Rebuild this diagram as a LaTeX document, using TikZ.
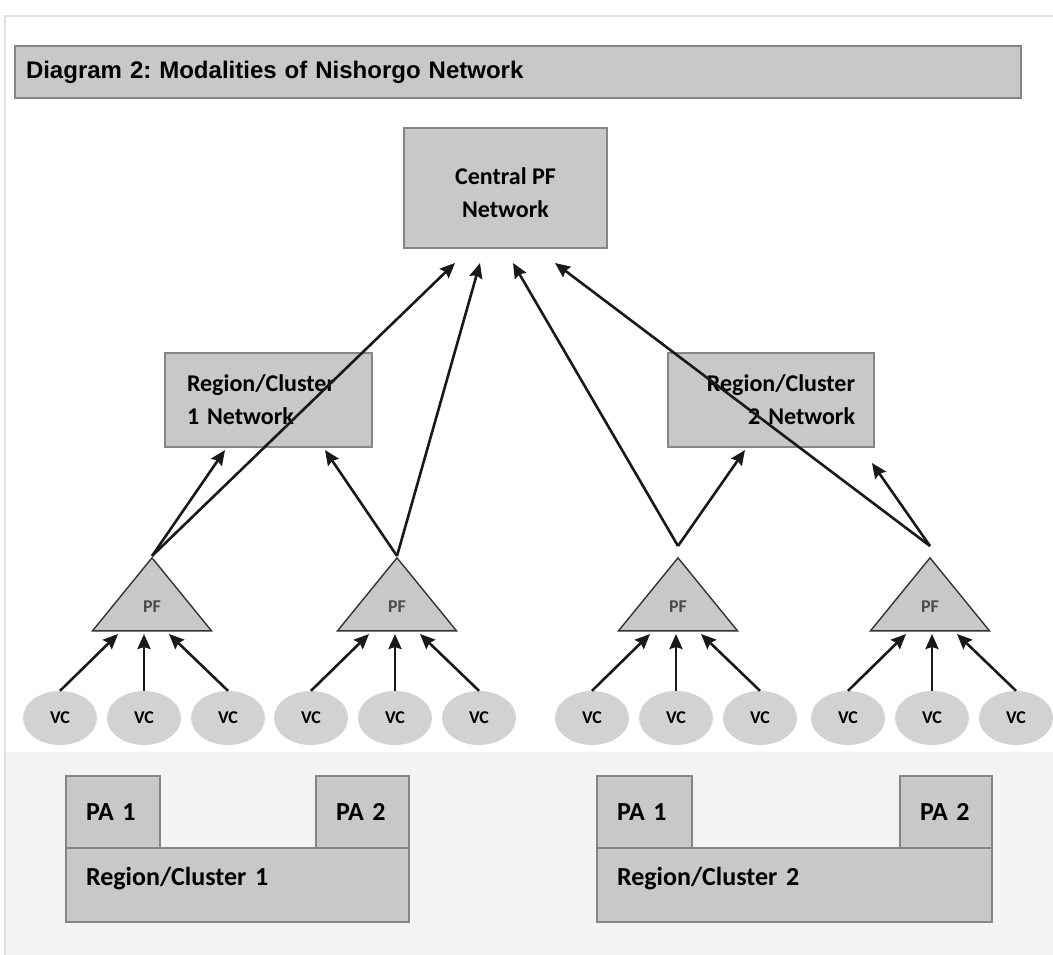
\documentclass[tikz,border=0pt]{standalone}
\usepackage{fontspec}
\setmainfont{Carlito}
\newfontfamily\titlefont{Liberation Sans}
\frenchspacing
\usetikzlibrary{arrows.meta,positioning,calc,shapes.geometric}
\definecolor{ngrey}{HTML}{C8C8C8}
\definecolor{vgrey}{HTML}{D2D2D2}
\definecolor{lgrey}{HTML}{F3F3F3}
\definecolor{nedge}{HTML}{858585}
\tikzset{
  gbox/.style={draw=nedge,fill=ngrey,line width=2pt,inner sep=0pt,font=\fontsize{24}{33}\selectfont\bfseries},
  pabox/.style={gbox,anchor=north west,inner xsep=20pt,align=left,font=\fontsize{26}{29}\selectfont\bfseries},
  tri/.style={isosceles triangle,isosceles triangle stretches,shape border rotate=90,draw=black!80,fill=ngrey,line width=1.4pt,minimum width=119pt,minimum height=73pt,inner sep=0pt},
  pftext/.style={font=\fontsize{18}{20}\selectfont\bfseries,text=black!70},
  vcnode/.style={ellipse,fill=vgrey,minimum width=74pt,minimum height=54pt,inner sep=0pt,font=\fontsize{18}{20}\selectfont\bfseries},
  arr/.style={-{Stealth[length=15pt,width=13pt,inset=2pt]},line width=2.6pt,draw=black!90},
}
\begin{document}
\begin{tikzpicture}[x=1pt,y=-1pt]
  \useasboundingbox (0,0) rectangle (1053,955);
  \fill[white] (0,0) rectangle (1053,955);
  \fill[lgrey] (5,752) rectangle (1053,955);
  \draw[black!12,line width=2pt] (1053,16) -- (5,16) -- (5,955);

  % title and network boxes
  \node[gbox,anchor=north west,minimum width=1006pt,minimum height=52pt,text width=984pt,inner xsep=11pt,align=left,font=\titlefont\fontsize{24}{27}\selectfont\bfseries] (title) at (14,45) {Diagram 2: Modalities of Nishorgo Network};
  \node[gbox,minimum width=203pt,minimum height=120pt] (central) at (505.5,188) {};
  \node[font=\fontsize{24}{33}\selectfont\bfseries,align=center,inner sep=0pt] (centraltext) at ([yshift=-5pt]central.center) {Central PF\\Network};
  \node[gbox,minimum width=207pt,minimum height=94pt,text width=163pt,inner xsep=22pt,align=left] (reg1) at (268.5,400) {Region/Cluster\\1 Network};
  \node[gbox,minimum width=206pt,minimum height=94pt,text width=168pt,inner xsep=19pt,align=right] (reg2) at (771,400) {Region/Cluster\\2 Network};

  % PF triangles and VC ellipses
  \foreach \g/\c/\t in {1/144/152,2/395/397,3/676/678,4/932/930} {
    \node[tri,anchor=apex] (pf\g) at (\t,556) {};
    \node[pftext] (pft\g) at (\t,607) {PF};
    \node[vcnode] (vcl\g) at (\c-84,718) {VC};
    \node[vcnode] (vcm\g) at (\c,718) {VC};
    \node[vcnode] (vcr\g) at (\c+84,718) {VC};
    \coordinate (tipl\g) at (\c-26,634);
    \coordinate (tipm\g) at (\c,634);
    \coordinate (tipr\g) at (\c+25,634);
    \draw[arr] (vcl\g.north) -- (tipl\g);
    \draw[arr] (vcm\g.north) -- (tipm\g);
    \draw[arr] (vcr\g.north) -- (tipr\g);
  }

  % links up to the networks
  \draw[arr] (pf1.apex) -- ([xshift=-43.5pt,yshift=-2pt]reg1.south);
  \draw[arr] (pf1.apex) -- ([xshift=-50.5pt,yshift=-14pt]central.south);
  \draw[arr] (pf2.apex) -- ([xshift=56.5pt,yshift=-2pt]reg1.south);
  \draw[arr] (pf2.apex) -- ([xshift=-25.5pt,yshift=-14pt]central.south);
  \draw[arr] ([yshift=10pt]pf3.apex) -- ([xshift=-26pt,yshift=-2pt]reg2.south);
  \draw[arr] ([yshift=10pt]pf3.apex) -- ([xshift=7.5pt,yshift=-14pt]central.south);
  \draw[arr] ([yshift=10pt]pf4.apex) -- ([xshift=101pt,yshift=-15pt]reg2.south);
  \draw[arr] ([yshift=10pt]pf4.apex) -- ([xshift=49.5pt,yshift=-14pt]central.south);

  % protected areas in the clusters
  \node[pabox,minimum width=94pt,minimum height=72pt,text width=54pt] (pa1a) at (65,775) {PA 1};
  \node[pabox,minimum width=93pt,minimum height=72pt,text width=53pt] (pa2a) at (315,775) {PA 2};
  \node[pabox,minimum width=343pt,minimum height=74pt,text width=303pt,text depth=17pt] (clus1) at (65,847) {Region/Cluster 1};
  \node[pabox,minimum width=95pt,minimum height=72pt,text width=55pt] (pa1b) at (596,775) {PA 1};
  \node[pabox,minimum width=92pt,minimum height=72pt,text width=52pt] (pa2b) at (899,775) {PA 2};
  \node[pabox,minimum width=395pt,minimum height=74pt,text width=355pt,text depth=17pt] (clus2) at (596,847) {Region/Cluster 2};
\end{tikzpicture}
\end{document}
